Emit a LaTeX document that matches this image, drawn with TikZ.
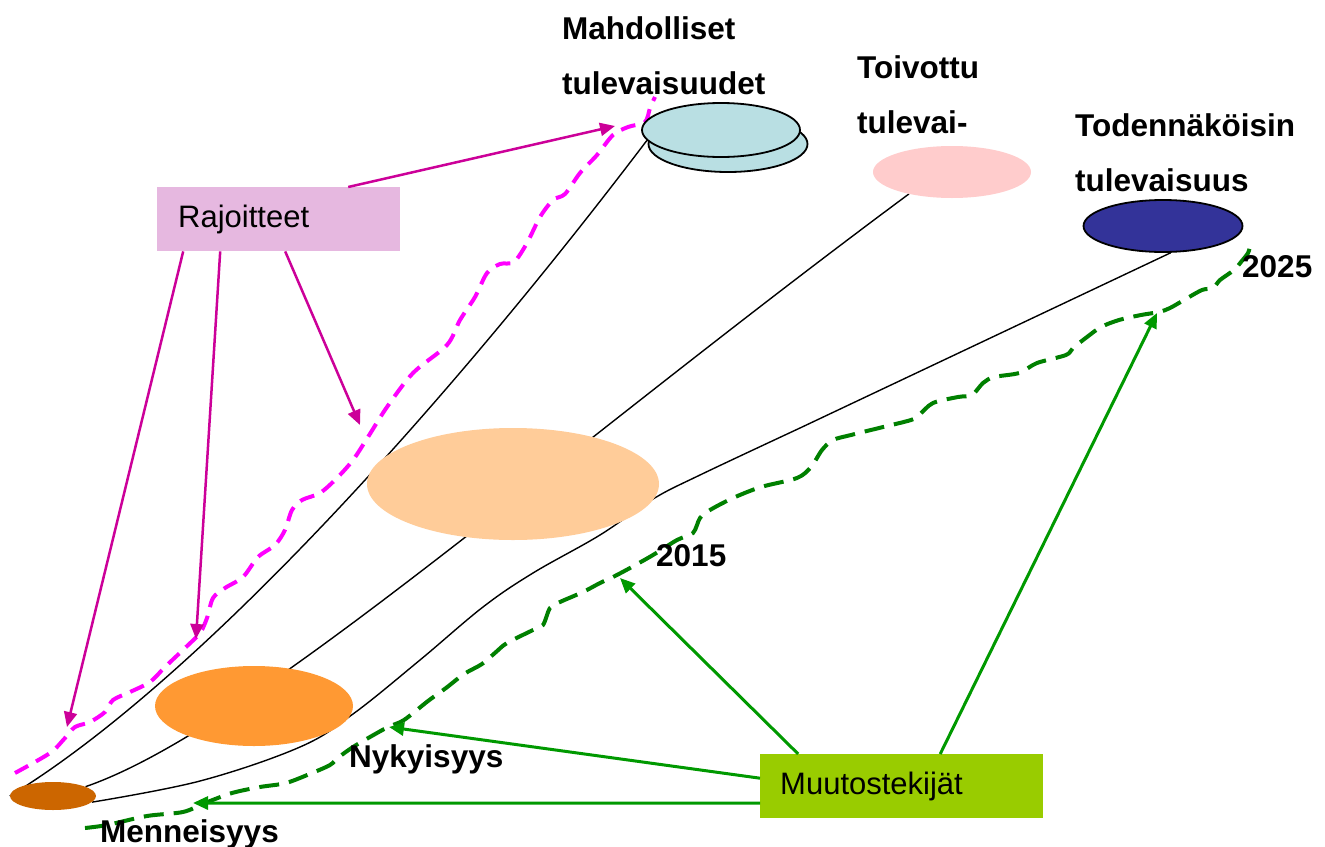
\documentclass[tikz,border=0pt]{standalone}
\usepackage{fontspec}
\setmainfont{Liberation Sans}
\usetikzlibrary{shapes.geometric,arrows.meta}
\pgfdeclarelayer{background}
\pgfsetlayers{background,main}
\definecolor{pastC}{HTML}{CC6600}
\definecolor{nowC}{HTML}{FF9933}
\definecolor{midC}{HTML}{FFCC99}
\definecolor{possC}{HTML}{B9DFE3}
\definecolor{hopeC}{HTML}{FFCCCC}
\definecolor{likelyC}{HTML}{333399}
\definecolor{limitC}{HTML}{E6B8E0}
\definecolor{changeC}{HTML}{99CC00}
\definecolor{limitLine}{HTML}{CC0099}
\definecolor{changeLine}{HTML}{009900}
\definecolor{dashPink}{HTML}{FF00FF}
\definecolor{dashGreen}{HTML}{008000}

\begin{document}
\begin{tikzpicture}[x=1pt, y=-1pt,
    oval/.style={ellipse, inner sep=0pt},
    box/.style={rectangle, anchor=north west, minimum height=64pt, align=left, font=\fontsize{31}{37}\selectfont},
    lbl/.style={inner sep=0pt, align=left, font=\fontsize{31.5}{55}\selectfont\bfseries},
    timeline/.style={black, line width=1.4pt},
    limitarrow/.style={limitLine, line width=2.5pt, -{Triangle[length=15pt, width=13pt]}},
    changearrow/.style={changeLine, line width=3pt, -{Triangle[length=15pt, width=13pt]}},
    wiggle/.style={line width=4pt, dash pattern=on 15pt off 9pt}]
    \useasboundingbox (0,0) rectangle (1325,846);

    \node[oval, fill=pastC, minimum width=86pt, minimum height=28pt] (past) at (53,796) {};
    \node[oval, fill=nowC, minimum width=198pt, minimum height=80pt] (now) at (254,706) {};
    \node[oval, fill=midC, minimum width=292pt, minimum height=112pt] (mid) at (513,484) {};
    \node[oval, draw, line width=1.8pt, fill=possC, minimum width=159pt, minimum height=56pt] (possb) at (728,144) {};
    \node[oval, draw, line width=1.8pt, fill=possC, minimum width=158pt, minimum height=54pt] (poss) at (721,130) {};
    \node[oval, fill=hopeC, minimum width=158pt, minimum height=52pt] (hope) at (952,172) {};
    \node[oval, draw, line width=1.8pt, fill=likelyC, minimum width=159pt, minimum height=52pt] (likely) at (1163,226) {};

    \node[box, fill=limitC, text width=201pt, inner xsep=21pt] (limits) at (157,187) {Rajoitteet};
    \node[box, fill=changeC, text width=243pt, inner xsep=20pt] (change) at (760,754) {Muutostekijät};

    \node[lbl, anchor=north west] (possLbl) at (562,16) {Mahdolliset\\tulevaisuudet};
    \node[lbl, anchor=north west] (hopeLbl) at (857,55) {Toivottu\\tulevai-};
    \node[lbl, anchor=north west] (likelyLbl) at (1075,113) {Todennäköisin\\tulevaisuus};
    \node[lbl, anchor=base west] (y2025) at (1242,277) {2025};
    \node[lbl, anchor=base west] (y2015) at (656,566) {2015};
    \node[lbl, anchor=base west] (nowLbl) at (349,767) {Nykyisyys};
    \node[lbl, anchor=base west] (pastLbl) at (100,842) {Menneisyys};

    \begin{pgfonlayer}{background}
    \fill[white] (0,0) rectangle (1325,846);
    \draw[timeline] (past.west) .. controls (200,680) and (450,400) .. (poss.188);
    \draw[timeline] (past.16) .. controls (250,730) and (550,460) .. (hope.207);
    \draw[timeline] plot[smooth, tension=0.6] coordinates {(past.-9) (200,781) (300,747)
        (353,714) (420,660) (483,607) (533,573) (600,535) (653,499) (700,475) (800,428)}
        -- (likely.-74);

    \draw[wiggle, dashPink] plot[smooth, tension=0.5] coordinates {
        (15,773) (50,753) (65,738) (75,727) (90,722) (105,712) (113,700) (130,692)
        (150,682) (165,667) (185,648) (200,633) (207,618) (213,598) (225,588) (243,577)
        (258,557) (275,545) (285,530) (292,510) (302,500) (320,493) (337,478) (353,460)
        (368,437) (387,407) (413,373) (447,345) (460,320) (475,297) (487,273) (500,264)
        (514,262) (527,243) (540,217) (553,200) (565,194) (580,173) (597,155) (613,135)
        (628,127) (645,122) (650,108) (655,97)};
    \draw[wiggle, dashGreen, dash pattern=on 20pt off 10pt] plot[smooth, tension=0.5] coordinates {
        (85,828) (107,825) (147,816) (183,812) (205,803) (232,793) (260,787) (286,783)
        (312,773) (330,765) (339,757) (353,747) (370,737) (388,727) (404,720) (428,701)
        (446,688) (464,674) (482,664) (496,652) (507,643) (533,630) (543,625) (550,608)
        (560,602) (583,592) (600,583) (613,577) (630,568) (653,555) (677,540) (693,533)
        (700,518) (710,510) (733,498) (761,487) (797,478) (811,467) (822,450) (833,440)
        (851,435) (879,428) (911,420) (919,415) (933,403) (958,397) (972,395) (983,383)
        (994,377) (1019,373) (1037,363) (1066,355) (1073,348) (1087,337) (1101,327) (1119,320)
        (1141,315) (1159,312) (1170,308) (1184,300) (1202,290) (1213,288) (1220,280) (1234,270)
        (1241,262) (1248,253) (1250,246)};
    \end{pgfonlayer}

    \coordinate (limPoss) at (615,126);
    \coordinate (limPast) at (67,727);
    \coordinate (limNow) at (196,639);
    \coordinate (limMid) at (360,425);
    \coordinate (chPast) at (193,803);
    \coordinate (chNow) at (389,727);
    \coordinate (chMid) at (620,578);
    \coordinate (chLate) at (1157,313);

    \draw[limitarrow] ([xshift=69.5pt]limits.north) -- (limPoss);
    \draw[limitarrow] ([xshift=-95.5pt]limits.south) -- (limPast);
    \draw[limitarrow] ([xshift=-58.5pt]limits.south) -- (limNow);
    \draw[limitarrow] ([xshift=6.5pt]limits.south) -- (limMid);

    \draw[changearrow] ([yshift=-17pt]change.west) -- (chPast);
    \draw[changearrow] ([yshift=8pt]change.west) -- (chNow);
    \draw[changearrow] ([xshift=-103.5pt]change.north) -- (chMid);
    \draw[changearrow] ([xshift=38.5pt]change.north) -- (chLate);
\end{tikzpicture}
\end{document}
